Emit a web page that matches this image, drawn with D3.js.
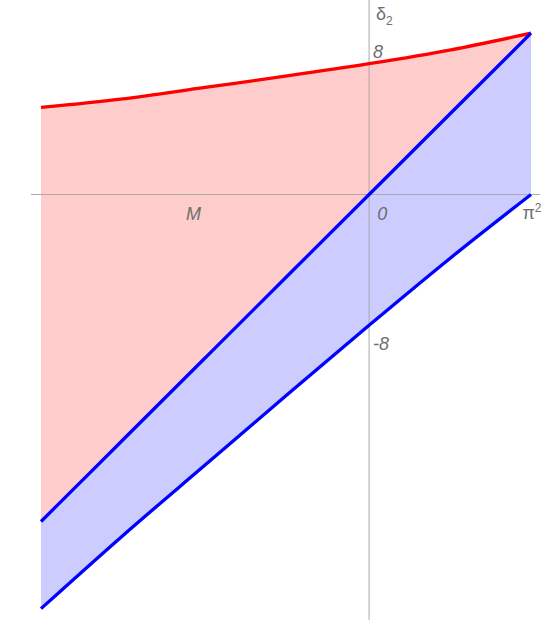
<!DOCTYPE html>
<html>
<head>
<meta charset="utf-8">
<script src="https://cdn.jsdelivr.net/npm/d3@7"></script>
<style>
  body { margin: 0; background: #fff; }
  text { font-family: "Liberation Sans", Arial, sans-serif; fill: #6e6e6e; }
</style>
</head>
<body>
<div id="chart"></div>
<script>
var PI2 = Math.PI * Math.PI;

// x grid the curves were read at
var xs = [-20, -15, -10, -5, 0, 5, PI2];
// upper boundary (red curve)
var redTop = [5.33, 5.85, 6.55, 7.25, 8.0, 8.85, PI2];
// diagonal (blue line through origin)
var blueMid = [-20, -15, -10, -5, 0, 5, PI2];
// lower boundary (blue line)
var blueLow = [-25.33, -20.85, -16.55, -12.25, -8.0, -3.85, 0];

// text labels on the axes
var xLabels = [{ v: -10.7, t: "M" }, { v: 0.8, t: "0" }];
var yLabels = [{ v: 8.75, t: "8" }, { v: -9.1, t: "-8" }];

var width = 546, height = 622;

var x = d3.scaleLinear().domain([-20, PI2]).range([41, 531]);
var y = d3.scaleLinear().domain([-26, 11]).range([194.5 + 26 * 16.35, 194.5 - 11 * 16.35]);

var svg = d3.select("#chart").append("svg")
    .attr("width", width)
    .attr("height", height);

var pts = xs.map(function (d, i) {
    return { x: d, top: redTop[i], mid: blueMid[i], low: blueLow[i] };
});

var curve = d3.curveCatmullRom;

// red region between red curve and diagonal
svg.append("path")
    .datum(pts)
    .attr("fill", "rgb(255,204,204)")
    .attr("d", d3.area()
        .x(function (d) { return x(d.x); })
        .y0(function (d) { return y(d.mid); })
        .y1(function (d) { return y(d.top); })
        .curve(curve));

// blue region between diagonal and lower line
svg.append("path")
    .datum(pts)
    .attr("fill", "rgb(204,204,255)")
    .attr("d", d3.area()
        .x(function (d) { return x(d.x); })
        .y0(function (d) { return y(d.low); })
        .y1(function (d) { return y(d.mid); })
        .curve(curve));

// axes
svg.append("line")
    .attr("x1", 31).attr("x2", 540)
    .attr("y1", y(0)).attr("y2", y(0))
    .attr("stroke", "#aaa").attr("stroke-width", 1);
svg.append("line")
    .attr("x1", x(0)).attr("x2", x(0))
    .attr("y1", 0).attr("y2", 620)
    .attr("stroke", "#aaa").attr("stroke-width", 1);

// curves
function line(key) {
    return d3.line()
        .x(function (d) { return x(d.x); })
        .y(function (d) { return y(d[key]); })
        .curve(curve);
}
svg.append("path").datum(pts)
    .attr("fill", "none").attr("stroke", "#ff0000").attr("stroke-width", 3.3)
    .attr("d", line("top"));
svg.append("path").datum(pts)
    .attr("fill", "none").attr("stroke", "#0000ff").attr("stroke-width", 3.3)
    .attr("d", line("mid"));
svg.append("path").datum(pts)
    .attr("fill", "none").attr("stroke", "#0000ff").attr("stroke-width", 3.3)
    .attr("d", line("low"));

// labels
svg.selectAll(".xl").data(xLabels).enter().append("text")
    .attr("class", "xl")
    .attr("x", function (d) { return x(d.v); })
    .attr("y", y(0) + 25)
    .attr("text-anchor", "middle")
    .style("font-size", "18px")
    .style("font-style", "italic")
    .text(function (d) { return d.t; });

var pl = svg.append("text")
    .attr("x", x(PI2) + 1)
    .attr("y", y(0) + 24)
    .attr("text-anchor", "middle")
    .style("font-size", "18px");
pl.append("tspan").text("\u03c0");
pl.append("tspan").attr("dy", -7).style("font-size", "12px").text("2");

svg.selectAll(".yl").data(yLabels).enter().append("text")
    .attr("class", "yl")
    .attr("x", x(0) + 4)
    .attr("y", function (d) { return y(d.v); })
    .attr("dy", "0.35em")
    .style("font-size", "18px")
    .style("font-style", "italic")
    .text(function (d) { return d.t; });

var dl = svg.append("text")
    .attr("x", x(0) + 7)
    .attr("y", 20)
    .style("font-size", "18px");
dl.append("tspan").text("\u03b4");
dl.append("tspan").attr("dy", 5).style("font-size", "12px").text("2");
</script>
</body>
</html>
